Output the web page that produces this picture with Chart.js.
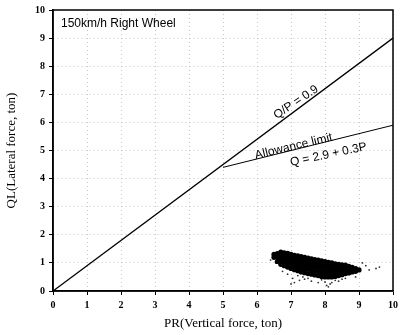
<!DOCTYPE html>
<html>
<head>
<meta charset="utf-8">
<script src="https://cdn.jsdelivr.net/npm/chart.js@4"></script>
<style>
  html, body { margin: 0; padding: 0; background: #fff; }
  #wrap { width: 402px; height: 335px; }
</style>
</head>
<body>
<div id="wrap"><canvas id="myChart" width="402" height="335"></canvas></div>
<script>
// lines: Q/P = 0.9 and allowance limit Q = 2.9 + 0.3P
const ratioLine = [{x: 0, y: 0}, {x: 10, y: 9}];
const limitLine = [{x: 5, y: 4.4}, {x: 10, y: 5.9}];

const cloudX = [
  6.5, 6.5,
  6.6, 6.6, 6.6,
  6.7, 6.7, 6.7, 6.7,
  6.8, 6.8, 6.8, 6.8, 6.8,
  6.9, 6.9, 6.9, 6.9, 6.9,
  7.0, 7.0, 7.0, 7.0, 7.0,
  7.1, 7.1, 7.1, 7.1, 7.1,
  7.2, 7.2, 7.2, 7.2, 7.2,
  7.3, 7.3, 7.3, 7.3, 7.3,
  7.4, 7.4, 7.4, 7.4, 7.4,
  7.5, 7.5, 7.5, 7.5, 7.5,
  7.6, 7.6, 7.6, 7.6, 7.6,
  7.7, 7.7, 7.7, 7.7, 7.7,
  7.8, 7.8, 7.8, 7.8, 7.8,
  7.9, 7.9, 7.9, 7.9, 7.9,
  8.0, 8.0, 8.0, 8.0, 8.0,
  8.1, 8.1, 8.1, 8.1, 8.1,
  8.2, 8.2, 8.2, 8.2, 8.2,
  8.3, 8.3, 8.3, 8.3, 8.3,
  8.4, 8.4, 8.4, 8.4, 8.4,
  8.5, 8.5, 8.5, 8.5, 8.5,
  8.6, 8.6, 8.6, 8.6, 8.6,
  8.7, 8.7, 8.7, 8.7,
  8.8, 8.8, 8.8,
  8.9, 8.9,
  9.0
];
const cloudY = [
  1.2, 1.3,
  1.05, 1.2, 1.33,
  0.95, 1.1, 1.25, 1.38,
  0.9, 1.02, 1.15, 1.28, 1.36,
  0.85, 0.98, 1.1, 1.22, 1.34,
  0.8, 0.92, 1.05, 1.18, 1.3,
  0.76, 0.9, 1.02, 1.14, 1.27,
  0.72, 0.86, 1.0, 1.12, 1.25,
  0.68, 0.83, 0.97, 1.1, 1.22,
  0.65, 0.8, 0.95, 1.07, 1.2,
  0.62, 0.78, 0.92, 1.04, 1.17,
  0.6, 0.75, 0.9, 1.02, 1.14,
  0.57, 0.72, 0.87, 0.99, 1.12,
  0.55, 0.7, 0.85, 0.97, 1.1,
  0.52, 0.67, 0.82, 0.95, 1.07,
  0.5, 0.65, 0.8, 0.92, 1.05,
  0.5, 0.64, 0.78, 0.9, 1.02,
  0.5, 0.63, 0.76, 0.88, 1.0,
  0.52, 0.64, 0.76, 0.86, 0.97,
  0.55, 0.66, 0.77, 0.86, 0.95,
  0.58, 0.68, 0.77, 0.86, 0.93,
  0.62, 0.7, 0.78, 0.86, 0.92,
  0.64, 0.72, 0.8, 0.88,
  0.68, 0.76, 0.84,
  0.7, 0.8,
  0.75
];
// stray points around the cloud
const strayX = [6.55, 6.4, 6.9, 7.05, 7.2, 7.1, 7.0, 7.4, 7.5, 7.6, 7.9, 8.05, 8.1, 8.2, 8.3, 8.4, 8.6, 8.9, 9.1, 9.2, 9.3, 9.5, 9.6, 7.25, 6.75, 7.35, 7.8, 8.0, 8.15, 8.5];
const strayY = [1.0, 1.1, 0.6, 0.45, 0.55, 0.3, 0.25, 0.42, 0.45, 0.35, 0.4, 0.2, 0.15, 0.3, 0.38, 0.35, 0.45, 0.5, 1.0, 0.9, 0.75, 0.8, 0.85, 0.38, 0.7, 0.5, 0.3, 0.32, 0.25, 0.42];

// tick labels 0..10 on both axes
const tickValues = [0, 1, 2, 3, 4, 5, 6, 7, 8, 9, 10];

// text written on the plot, placed in data units
const notes = [
  {text: "Q/P = 0.9", x: 7.15, y: 6.72, angle: -34, base: "middle"},
  {text: "Allowance limit", x: 7.1, y: 5.03, angle: -13.5, base: "alphabetic"},
  {text: "Q = 2.9 + 0.3P", x: 8.1, y: 4.85, angle: -12, base: "middle"}
];

const cloud = cloudX.map((x, i) => ({x: x, y: cloudY[i]}));
const stray = strayX.map((x, i) => ({x: x, y: strayY[i]}));

const notesPlugin = {
  id: "notes",
  afterDatasetsDraw(chart) {
    const {ctx, chartArea, scales} = chart;
    ctx.save();
    // full frame round the plot
    ctx.setLineDash([]);
    ctx.strokeStyle = "#000";
    ctx.lineWidth = 1.5;
    ctx.beginPath();
    ctx.moveTo(chartArea.left, chartArea.top);
    ctx.lineTo(chartArea.right, chartArea.top);
    ctx.lineTo(chartArea.right, chartArea.bottom);
    ctx.moveTo(chartArea.left, chartArea.top);
    ctx.lineTo(chartArea.left, chartArea.bottom);
    ctx.lineTo(chartArea.right, chartArea.bottom);
    ctx.stroke();

    ctx.fillStyle = "#000";
    ctx.font = "12px 'Liberation Sans', Arial, sans-serif";
    ctx.textAlign = "left";
    ctx.textBaseline = "middle";
    ctx.fillText("150km/h Right Wheel", chartArea.left + 8, chartArea.top + 14);

    ctx.textAlign = "center";
    notes.forEach(n => {
      ctx.save();
      ctx.textBaseline = n.base;
      ctx.translate(scales.x.getPixelForValue(n.x), scales.y.getPixelForValue(n.y));
      ctx.rotate(n.angle * Math.PI / 180);
      ctx.fillText(n.text, 0, 0);
      ctx.restore();
    });
    ctx.restore();
  }
};

const tickFont = {family: "'Liberation Serif', 'Times New Roman', serif", size: 10, weight: "bold"};
const titleFont = {family: "'Liberation Serif', 'Times New Roman', serif", size: 13};
const gridStyle = {
  color: "#c4c4c4",
  lineWidth: 1,
  tickColor: "#000",
  tickLength: 4,
  tickBorderDash: [],
  drawTicks: true
};

const config = {
  type: "scatter",
  data: {
    datasets: [
      {
        type: "line",
        data: ratioLine,
        borderColor: "#000",
        borderWidth: 1.3,
        pointRadius: 0,
        showLine: true
      },
      {
        type: "line",
        data: limitLine,
        borderColor: "#000",
        borderWidth: 1,
        pointRadius: 0,
        showLine: true
      },
      {
        data: cloud,
        backgroundColor: "#000",
        borderWidth: 0,
        pointRadius: 2.6
      },
      {
        data: stray,
        backgroundColor: "#333",
        borderWidth: 0,
        pointRadius: 0.9
      }
    ]
  },
  options: {
    responsive: false,
    animation: false,
    events: [],
    layout: {padding: {top: 10, right: 4, left: 0, bottom: 0}},
    plugins: {legend: {display: false}, tooltip: {enabled: false}},
    scales: {
      x: {
        type: "linear",
        min: 0,
        max: 10,
        afterBuildTicks: s => { s.ticks = tickValues.map(v => ({value: v})); },
        afterFit: s => { s.height = 44; },
        grid: gridStyle,
        border: {color: "#000", width: 1.5, dash: [1, 3]},
        ticks: {color: "#000", font: tickFont, padding: 4, maxRotation: 0},
        title: {display: true, text: "PR(Vertical force, ton)", color: "#000", font: titleFont, padding: {top: 2}}
      },
      y: {
        type: "linear",
        min: 0,
        max: 10,
        afterBuildTicks: s => { s.ticks = tickValues.map(v => ({value: v})); },
        afterFit: s => { s.width = 53; },
        grid: gridStyle,
        border: {color: "#000", width: 1.5, dash: [1, 3]},
        ticks: {color: "#000", font: tickFont, padding: 4},
        title: {display: true, text: "QL(Lateral force, ton)", color: "#000", font: titleFont, padding: {bottom: 6}}
      }
    }
  },
  plugins: [notesPlugin]
};

const myChart = new Chart(document.getElementById("myChart"), config);
</script>
</body>
</html>
